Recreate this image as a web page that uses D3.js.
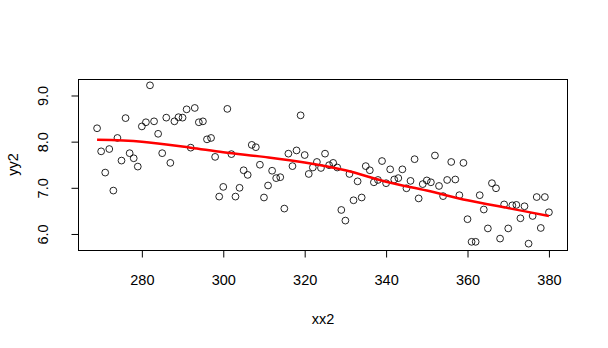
<!DOCTYPE html>
<html>
<head>
<meta charset="utf-8">
<script src="https://cdn.jsdelivr.net/npm/d3@7"></script>
<style>
  body { margin: 0; background: #fff; }
  text { font-family: "Liberation Sans", Arial, sans-serif; fill: #000; }
</style>
</head>
<body>
<div id="chart"></div>
<script>
// x values (one point per integer)
var xx2 = d3.range(269, 381);

// y values, in x order
var yy2 = [
  8.29, 7.79, 7.33, 7.84, 6.94, 8.08, 7.59, 8.51, 7.75, 7.64,
  7.46, 8.33, 8.42, 9.22, 8.44, 8.17, 7.75, 8.52, 7.54, 8.44,
  8.53, 8.52, 8.70, 7.87, 8.73, 8.42, 8.44, 8.05, 8.08, 7.67,
  6.81, 7.02, 8.71, 7.73, 6.81, 7.00, 7.38, 7.28, 7.93, 7.88,
  7.50, 6.79, 7.05, 7.37, 7.21, 7.23, 6.55, 7.74, 7.47, 7.81,
  8.57, 7.71, 7.30, 7.44, 7.56, 7.43, 7.74, 7.49, 7.54, 7.44,
  6.52, 6.29, 7.30, 6.73, 7.14, 6.79, 7.47, 7.38, 7.12, 7.17,
  7.58, 7.10, 7.40, 7.18, 7.21, 7.40, 6.99, 7.15, 7.62, 6.77,
  7.08, 7.16, 7.12, 7.70, 7.04, 6.82, 7.17, 7.56, 7.18, 6.84,
  7.54, 6.32, 5.83, 5.83, 6.84, 6.53, 6.12, 7.10, 6.99, 5.90,
  6.64, 6.12, 6.62, 6.63, 6.34, 6.60, 5.79, 6.39, 6.80, 6.13,
  6.80, 6.47
];

// smooth (lowess) curve
var fitX = [269, 280, 292, 300, 310, 320, 330, 340, 350, 360, 370, 380];
var fitY = [8.04, 8.00, 7.87, 7.77, 7.67, 7.55, 7.38, 7.13, 6.94, 6.73, 6.56, 6.39];

var xTicks = [280, 300, 320, 340, 360, 380];
var yTicks = [6, 7, 8, 9];

var W = 608, H = 348;
var box = {left: 79, right: 567, top: 79, bottom: 250};
var fs = "14.5px";

var svg = d3.select("#chart").append("svg")
  .attr("width", W)
  .attr("height", H);

// R style range: data extent widened by 4%
var xe = d3.extent(xx2), ye = d3.extent(yy2);
var xpad = (xe[1] - xe[0]) * 0.04, ypad = (ye[1] - ye[0]) * 0.04;

var x = d3.scaleLinear()
  .domain([xe[0] - xpad, xe[1] + xpad])
  .range([box.left, box.right]);
var y = d3.scaleLinear()
  .domain([ye[0] - ypad, ye[1] + ypad])
  .range([box.bottom, box.top]);

// x axis
var gx = svg.append("g")
  .attr("transform", "translate(0," + (box.bottom + 0.5) + ")")
  .call(d3.axisBottom(x).tickValues(xTicks).tickSize(7).tickFormat(d3.format("d")));
gx.select(".domain").remove();
gx.selectAll("line").attr("stroke", "#000");
gx.selectAll("text")
  .style("font-size", fs)
  .attr("fill", "#000")
  .attr("y", 34)
  .attr("dy", 0);

// y axis, labels rotated like R (las = 0)
var gy = svg.append("g")
  .attr("transform", "translate(" + (box.left - 0.5) + ",0)")
  .call(d3.axisLeft(y).tickValues(yTicks).tickSize(7).tickFormat(d3.format(".1f")));
gy.select(".domain").remove();
gy.selectAll("line").attr("stroke", "#000");
gy.selectAll("text")
  .style("font-size", fs)
  .attr("fill", "#000")
  .attr("text-anchor", "middle")
  .attr("x", 0)
  .attr("y", -31)
  .attr("dy", 0)
  .attr("transform", "rotate(-90)");

// box
svg.append("rect")
  .attr("x", box.left - 0.5)
  .attr("y", box.top + 0.5)
  .attr("width", box.right - box.left + 1)
  .attr("height", box.bottom - box.top)
  .attr("fill", "none")
  .attr("stroke", "#000")
  .attr("stroke-width", 1);

// points
svg.append("g")
  .selectAll("circle")
  .data(xx2)
  .enter()
  .append("circle")
    .attr("cx", function(d) { return x(d); })
    .attr("cy", function(d, i) { return y(yy2[i]); })
    .attr("r", 3.4)
    .attr("fill", "none")
    .attr("stroke", "#000")
    .attr("stroke-width", 0.85);

// smooth line
var line = d3.line()
  .x(function(d) { return x(d); })
  .y(function(d, i) { return y(fitY[i]); })
  .curve(d3.curveMonotoneX);
svg.append("path")
  .attr("d", line(fitX))
  .attr("fill", "none")
  .attr("stroke", "#ff0000")
  .attr("stroke-width", 2.5);

// axis titles
svg.append("text")
  .attr("x", (box.left + box.right) / 2)
  .attr("y", 324)
  .attr("text-anchor", "middle")
  .style("font-size", fs)
  .text("xx2");

svg.append("text")
  .attr("transform", "translate(18," + (box.top + box.bottom) / 2 + ") rotate(-90)")
  .attr("text-anchor", "middle")
  .style("font-size", fs)
  .text("yy2");
</script>
</body>
</html>
